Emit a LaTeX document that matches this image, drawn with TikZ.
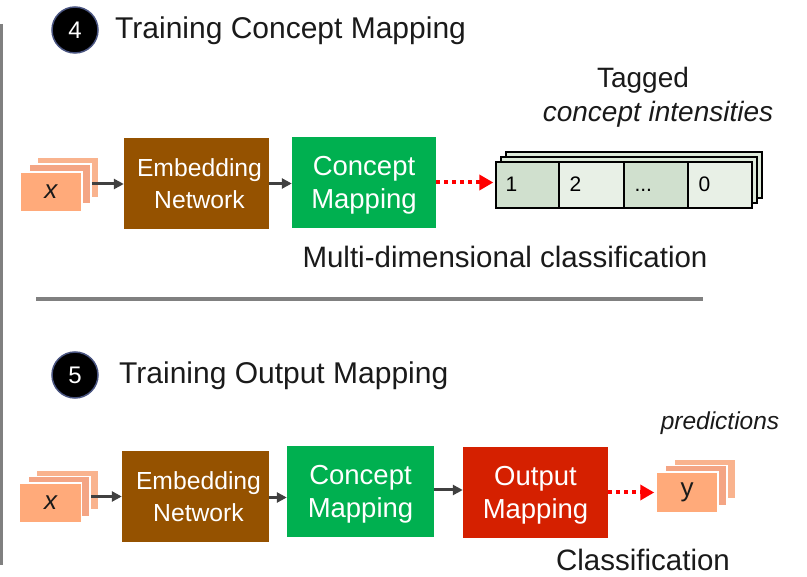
\documentclass[tikz,border=0pt]{standalone}
\usepackage{fontspec}
\setmainfont{Liberation Sans}
\usetikzlibrary{arrows.meta}
\definecolor{embbrown}{HTML}{955200}
\definecolor{cmgreen}{HTML}{00B050}
\definecolor{outred}{HTML}{D52000}
\definecolor{salmonA}{HTML}{FFAA7A}
\definecolor{salmonB}{HTML}{F4A584}
\definecolor{salmonC}{HTML}{F9B38E}
\definecolor{cellDark}{HTML}{D0E0CE}
\definecolor{cellLight}{HTML}{E8F0E6}
\definecolor{layerGreen}{HTML}{DDEAD9}
\definecolor{rulegray}{HTML}{808080}
\definecolor{arrowgray}{HTML}{404040}
\definecolor{txt}{HTML}{1A1A1A}
\tikzset{
  block/.style={inner sep=0pt, minimum width=145pt, minimum height=91pt},
  blocktext/.style={inner sep=0pt, text=white, align=center, font=\fontsize{27.5}{33}\selectfont},
  embtext/.style={inner sep=0pt, text=white, align=center, font=\fontsize{24.7}{32}\selectfont},
  sheet/.style={draw=white, line width=1.5pt, inner sep=0pt,
    minimum width=62pt, minimum height=40pt},
  cell/.style={draw=black, line width=1.3pt, inner sep=0pt, minimum height=46pt},
  celltext/.style={anchor=base west, inner sep=0pt, text=black, font=\fontsize{21}{24}\selectfont},
  flow/.style={draw=arrowgray, line width=3pt, -{Triangle[length=10pt,width=10pt]}},
  tagflow/.style={draw=red, line width=4pt, dash pattern=on 4pt off 4pt,
    -{Triangle[length=14pt,width=15pt,sep=0pt]}},
  badge/.style={circle, fill=black, draw=black!70!cyan!60!blue, line width=1.5pt,
    minimum size=46pt, inner sep=0pt, text=white, font=\fontsize{24}{28}\selectfont},
  heading/.style={anchor=west, inner sep=0pt, text=txt, font=\fontsize{30}{34}\selectfont},
  caption/.style={inner sep=0pt, text=txt, font=\fontsize{29.5}{34}\selectfont},
}
\begin{document}
\begin{tikzpicture}[x=1pt,y=-1pt]
\useasboundingbox (0,0) rectangle (807,577);

% frame rules
\draw[rulegray, line width=3pt] (1.5,24) -- (1.5,565);
\draw[rulegray, line width=4pt] (36,299) -- (703,299);

% ---------- step 4: concept mapping ----------
\node[badge] (b4) at (75,30) {4};
\node[heading] (t4) at (115,31) {Training Concept Mapping};

\node[sheet, fill=salmonC] (xa3) at (68,177.5) {};
\node[sheet, fill=salmonB] (xa2) at (60,184) {};
\node[sheet, fill=salmonA, font=\fontsize{26}{28}\selectfont\itshape, text=txt] (xa1) at (51,192) {x};

\node[block, fill=embbrown] (emb1) at (196.5,183.5) {};
\node[embtext] (emb1t) at ([xshift=3pt]emb1.center) {Embedding\\Network};
\node[block, fill=cmgreen, minimum width=144pt] (cm1) at (364,182.5) {};
\node[blocktext] (cm1t) at ([yshift=-3pt]cm1.center) {Concept\\Mapping};

% stacked concept vectors
\node[cell, fill=layerGreen, minimum width=256pt] (lay3) at (634,175) {};
\node[cell, fill=layerGreen, minimum width=256pt] (lay2) at (629,180) {};
\node[cell, fill=cellDark, minimum width=63pt] (c1) at (527.5,185) {};
\node[cell, fill=cellLight, minimum width=65pt] (c2) at (591.5,185) {};
\node[cell, fill=cellDark, minimum width=64pt] (c3) at (656,185) {};
\node[cell, fill=cellLight, minimum width=64pt] (c4) at (720,185) {};
\node[celltext] at ([xshift=10pt,yshift=-6.5pt]c1.west) {1};
\node[celltext] at ([xshift=11pt,yshift=-6.5pt]c2.west) {2};
\node[celltext] at ([xshift=11pt,yshift=-6.5pt]c3.west) {.\kern0pt.\kern0pt.};
\node[celltext] at ([xshift=11pt,yshift=-6.5pt]c4.west) {0};

\node[inner sep=0pt, text=txt, font=\fontsize{28}{32}\selectfont] (tag) at (643,80) {Tagged};
\node[inner sep=0pt, text=txt, font=\fontsize{28}{32}\selectfont\itshape] (ci) at (658,114) {concept intensities};
\node[caption] (mdc) at (505,257) {Multi-dimensional classification};

\draw[flow] (xa2.east) -- (xa2.east -| emb1.west);
\draw[flow] (emb1.east) -- (emb1.east -| cm1.west);
\draw[tagflow] (cm1.east) -- ([xshift=-2pt]cm1.east -| c1.west);

% ---------- step 5: output mapping ----------
\node[badge] (b5) at (75,375) {5};
\node[heading] (t5) at (119,376) {Training Output Mapping};

\node[sheet, fill=salmonC] (xb3) at (67.5,490) {};
\node[sheet, fill=salmonB] (xb2) at (59,496.5) {};
\node[sheet, fill=salmonA, font=\fontsize{26}{28}\selectfont\itshape, text=txt] (xb1) at (50.5,503) {x};

\node[block, fill=embbrown, minimum width=147pt] (emb2) at (195.5,496.5) {};
\node[embtext] (emb2t) at ([xshift=3pt]emb2.center) {Embedding\\Network};
\node[block, fill=cmgreen, minimum width=147pt] (cm2) at (360.5,491.5) {};
\node[blocktext] (cm2t) at ([yshift=-3pt]cm2.center) {Concept\\Mapping};
\node[block, fill=outred] (out2) at (535.5,492.5) {};
\node[blocktext] (out2t) at ([yshift=-3pt]out2.center) {Output\\Mapping};

\node[sheet, fill=salmonC] (ya3) at (705,479) {};
\node[sheet, fill=salmonB] (ya2) at (696,485.5) {};
\node[sheet, fill=salmonA, minimum height=41pt, font=\fontsize{26}{28}\selectfont, text=txt] (ya1) at (687,492.5) {y};

\node[inner sep=0pt, text=txt, font=\fontsize{24.5}{28}\selectfont\itshape] (pred) at (720,423) {predictions};
\node[caption] (cls) at (643,560) {Classification};

\draw[flow] (xb2.east) -- (xb2.east -| emb2.west);
\draw[flow] ([yshift=-1pt]emb2.east) -- ([yshift=-1pt]emb2.east -| cm2.west);
\draw[flow] ([yshift=1.5pt]cm2.east) -- ([yshift=1.5pt]cm2.east -| out2.west);
\draw[tagflow] (out2.east) -- ([xshift=-1pt]out2.east -| ya1.west);
\end{tikzpicture}
\end{document}
